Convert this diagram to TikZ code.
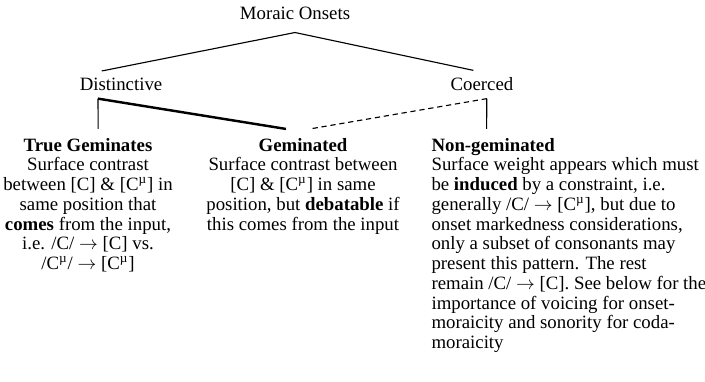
\documentclass[tikz,border=0pt]{standalone}
\usepackage{fontspec}
\setmainfont{Liberation Serif}
\usetikzlibrary{positioning}
\newcommand{\Cmu}{C\textsuperscript{µ}}

\begin{document}
\begin{tikzpicture}[line width=0.6pt,
every node/.style={font=\fontsize{10}{10.5}\selectfont, inner sep=0pt},
level/.style={anchor=base, inner ysep=0.13cm},
leafc/.style={anchor=north, align=center, inner ysep=0.16cm},
leafl/.style={anchor=north west, align=left, inner ysep=0.16cm},
strong/.style={line width=1.3pt},
weak/.style={dash pattern=on 2.8pt off 2pt}]
\useasboundingbox (0,0) rectangle (13.178,-7.14);

\node[anchor=base, inner ysep=0.224cm] (root) at (5.514,-0.37) {Moraic Onsets};
\node[level] (dist) at (2.262,-1.70) {Distinctive};
\node[level] (coer) at (9.009,-1.70) {Coerced};

\node[leafc] (truegem) at (1.645,-2.41) {\textbf{True Geminates}\\ Surface contrast\\ between [C] \& [\Cmu] in\\ same position that\\ \textbf{comes} from the input,\\ i.e. /C/ $\rightarrow$ [C] vs.\\ /\Cmu/ $\rightarrow$ [\Cmu]};
\node[leafc] (gem) at (5.664,-2.41) {\textbf{Geminated}\\ Surface contrast between\\ {[C]} \& [\Cmu] in same\\ position, but \textbf{debatable} if\\ this comes from the input};
\node[leafl] (nongem) at (8.056,-2.41) {\textbf{Non-geminated}\\ Surface weight appears which must\\ be \textbf{induced} by a constraint, i.e.\\ generally /C/ $\rightarrow$ [\Cmu], but due to\\ onset markedness considerations,\\ only a subset of consonants may\\ present this pattern. The rest\\ remain /C/ $\rightarrow$ [C]. See below for the\\ importance of voicing for onset-\\ moraicity and sonority for coda-\\ moraicity};

\draw (root.south) -- ([xshift=-0.36cm]dist.north);
\draw (root.south) -- ([xshift=-0.16cm]coer.north);
\draw ([xshift=-0.43cm]dist.south) -- ([xshift=0.19cm]truegem.north);
\draw[strong] ([xshift=-0.43cm]dist.south) -- ([xshift=-0.32cm]gem.north);
\draw ([xshift=0.09cm]coer.south) -- ([xshift=1.04cm]nongem.north west);
\draw[weak] ([xshift=0.09cm]coer.south) -- ([xshift=0.13cm]gem.north);
\end{tikzpicture}
\end{document}
